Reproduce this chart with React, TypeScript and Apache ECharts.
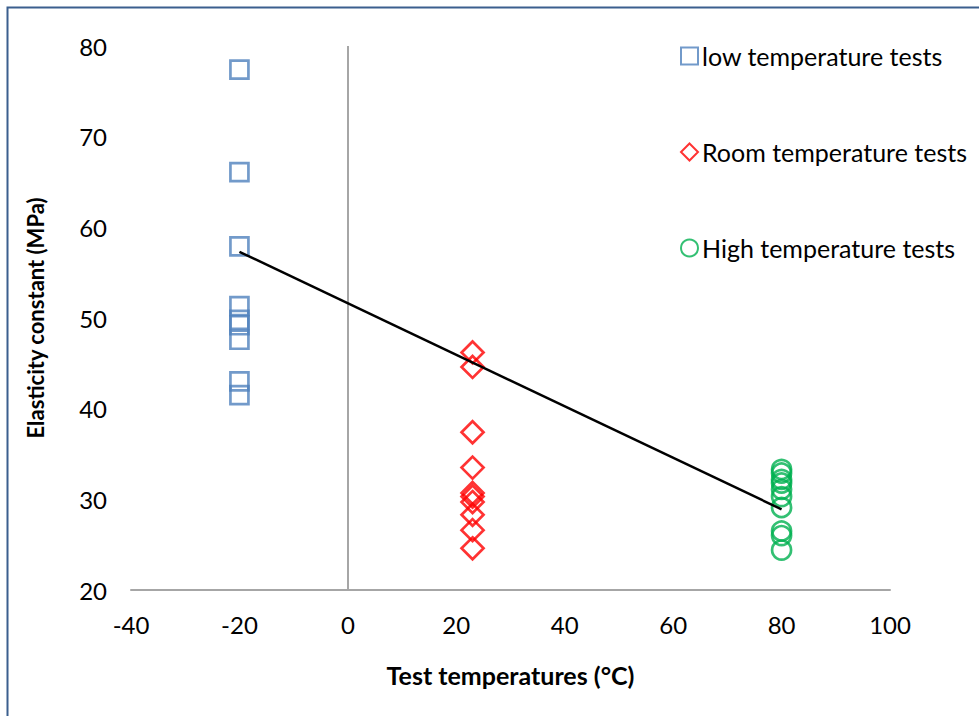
import React, { useEffect, useRef } from "react";
import * as echarts from "echarts";

const lowX = -20;
const lowY = [77.4, 66.1, 57.9, 51.3, 49.8, 49.2, 47.6, 43.0, 41.5];
const roomX = 23;
const roomY = [46.2, 44.6, 37.4, 33.5, 30.7, 30.3, 29.7, 28.3, 26.6, 24.6];
const highX = 80;
const highY = [33.3, 32.9, 32.2, 31.8, 31.1, 30.3, 29.1, 26.5, 26.0, 24.4];
const trendX = [-20, 80];
const trendY = [57.3, 28.9];
const seriesNames = ["low temperature tests", "Room temperature tests", "High temperature tests"];
const xTicks = { min: -40, max: 100, interval: 20 };
const yTicks = { min: 20, max: 80, interval: 10 };

const FONT = "Lato";

export default function App() {
  const ref = useRef<HTMLDivElement>(null);
  useEffect(() => {
    document.body.style.margin = "0";
    const chart = echarts.init(ref.current!, null, { renderer: "svg" });
    const pts = (x: number, ys: number[]) => ys.map((y) => [x, y]);
    chart.setOption({
      animation: false,
      backgroundColor: "#ffffff",
      textStyle: { fontFamily: FONT },
      grid: { left: 131, right: 89, top: 46, bottom: 126 },
      graphic: [
        {
          type: "rect",
          left: 5,
          top: 5,
          shape: { x: 0, y: 0, width: 1100, height: 900 },
          style: { fill: "none", stroke: "#3B5F8E", lineWidth: 2 },
          silent: true,
          z: 100,
        },
      ],
      legend: {
        orient: "vertical",
        left: 675,
        top: 37,
        itemGap: 68,
        itemWidth: 17,
        itemHeight: 17,
        data: seriesNames,
        textStyle: { fontFamily: FONT, fontSize: 25, color: "#000", lineHeight: 28, padding: [0, 0, 0, -1] },
      },
      xAxis: {
        type: "value",
        min: xTicks.min,
        max: xTicks.max,
        interval: xTicks.interval,
        axisLine: { onZero: false, lineStyle: { color: "#A6A6A6", width: 2 } },
        axisTick: { show: false },
        splitLine: { show: false },
        axisLabel: { fontFamily: FONT, fontSize: 24, color: "#000", margin: 22 },
        name: "Test temperatures (°C)",
        nameLocation: "middle",
        nameGap: 72,
        nameTextStyle: { fontFamily: FONT, fontSize: 25, fontWeight: "bold", color: "#000" },
      },
      yAxis: {
        type: "value",
        min: yTicks.min,
        max: yTicks.max,
        interval: yTicks.interval,
        axisLine: { show: false },
        axisTick: { show: false },
        splitLine: { show: false },
        axisLabel: { fontFamily: FONT, fontSize: 24, color: "#000", margin: 24 },
        name: "Elasticity constant (MPa)",
        nameLocation: "middle",
        nameGap: 85,
        nameTextStyle: { fontFamily: FONT, fontSize: 22, fontWeight: "bold", color: "#000" },
      },
      series: [
        {
          name: seriesNames[0],
          type: "scatter",
          symbol: "rect",
          symbolSize: 18,
          data: pts(lowX, lowY),
          itemStyle: { color: "rgba(255,255,255,0)", borderColor: "#4F81BD", borderWidth: 2.7 },
          z: 3,
        },
        {
          name: seriesNames[1],
          type: "scatter",
          symbol: "diamond",
          symbolSize: 22,
          data: pts(roomX, roomY),
          itemStyle: { color: "rgba(255,255,255,0)", borderColor: "#FF0000", borderWidth: 2.7 },
          z: 3,
        },
        {
          name: seriesNames[2],
          type: "scatter",
          symbol: "circle",
          symbolSize: 19,
          data: pts(highX, highY),
          itemStyle: { color: "rgba(255,255,255,0)", borderColor: "#00B050", borderWidth: 2.7 },
          z: 3,
        },
        {
          name: "trend",
          type: "line",
          data: trendX.map((x, i) => [x, trendY[i]]),
          showSymbol: false,
          symbol: "none",
          lineStyle: { color: "#000", width: 2.5 },
          z: 4,
          markLine: {
            silent: true,
            symbol: "none",
            label: { show: false },
            lineStyle: { color: "#A6A6A6", width: 2, type: "solid" },
            data: [{ xAxis: 0 }],
            z: 1,
          },
        },
      ],
    });
    return () => chart.dispose();
  }, []);
  return <div ref={ref} style={{ width: 979, height: 716 }} />;
}
